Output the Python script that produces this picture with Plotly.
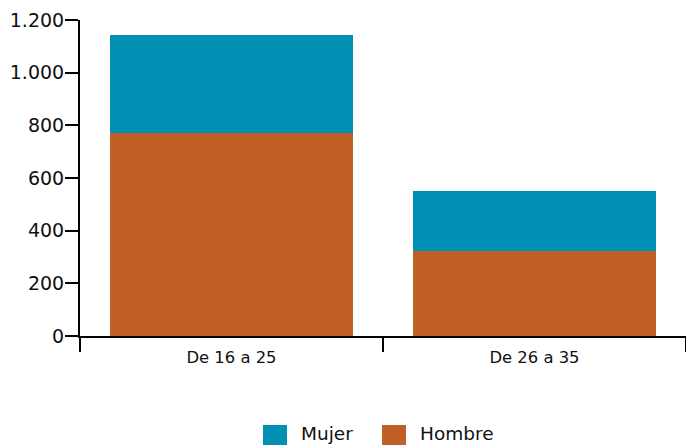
import plotly.graph_objects as go

categories = ["De 16 a 25", "De 26 a 35"]
hombre = [770, 324]
mujer = [374, 228]
series_names = ["Mujer", "Hombre"]
colors = {"Mujer": "#0090b4", "Hombre": "#c06026"}
y_ticks = [0, 200, 400, 600, 800, 1000, 1200]

fig = go.Figure()
fig.add_trace(go.Bar(x=categories, y=hombre, name="Hombre", marker_color=colors["Hombre"], marker_line_width=0))
fig.add_trace(go.Bar(x=categories, y=mujer, name="Mujer", marker_color=colors["Mujer"], marker_line_width=0))

fig.update_layout(
    width=686, height=445,
    barmode="stack", bargap=0.2,
    showlegend=False,
    separators=",.",
    paper_bgcolor="white", plot_bgcolor="white",
    margin=dict(l=80, r=0, t=20, b=109),
    font=dict(family="DejaVu Sans", color="#111"),
)
fig.update_yaxes(
    range=[0, 1200], tickvals=y_ticks, separatethousands=True, tickformat=",d",
    showgrid=False, zeroline=False, showline=True, linecolor="black", linewidth=2,
    ticks="outside", ticklen=13, tickwidth=2, tickcolor="black",
    tickfont=dict(size=19, color="#111"), ticklabelstandoff=-3,
)
fig.update_xaxes(
    showgrid=False, showline=True, linecolor="black", linewidth=2,
    ticks="outside", tickson="boundaries", ticklen=14, tickwidth=2, tickcolor="black",
    tickfont=dict(size=16.4, color="#111"), ticklabelstandoff=5,
)

# manual legend (larger swatches)
def px_x(p):
    return (p - 80) / 606
def px_y(p):
    return (336 - p) / 316

legend_items = [("Mujer", 263, 299), ("Hombre", 382, 418)]
for name, sx, tx in legend_items:
    fig.add_shape(type="rect", xref="paper", yref="paper",
                  x0=px_x(sx), x1=px_x(sx + 24), y0=px_y(425), y1=px_y(446),
                  fillcolor=colors[name], line_width=0)
    fig.add_annotation(text=name, xref="paper", yref="paper", x=px_x(tx), y=px_y(434),
                       xanchor="left", yanchor="middle", showarrow=False,
                       font=dict(size=18.5, color="#111"))

fig.write_html("out.html", config={"displayModeBar": False},
               post_script="document.body.style.margin='0';document.body.style.overflow='hidden';")
